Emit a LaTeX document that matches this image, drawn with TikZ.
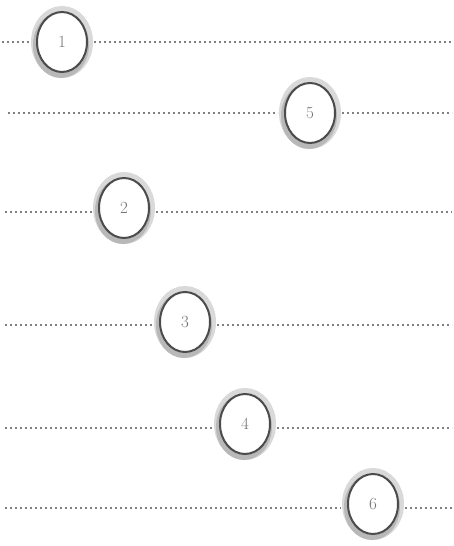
\documentclass[tikz,border=0pt]{standalone}
\usetikzlibrary{shapes.geometric}
\begin{document}
\begin{tikzpicture}[x=1pt,y=1pt,
  bub/.style={ellipse,draw=black!70,line width=2pt,fill=white,minimum width=50pt,minimum height=60pt,inner sep=0pt,
     font=\fontsize{17}{17}\selectfont,text=black!55,
     preaction={draw=black!15,line width=12pt},
     preaction={draw=black!28,line width=6pt,transform canvas={shift={(-1pt,-3pt)}}}},
  guide/.style={draw=black!50,line width=1.2pt,dash pattern=on 2pt off 3pt}]
\useasboundingbox (0,0) rectangle (453,546);
\node[bub] (n1) at (62,504) {1};
\node[bub] (n5) at (310,433) {5};
\node[bub] (n2) at (124,338) {2};
\node[bub] (n3) at (185,224) {3};
\node[bub] (n4) at (245,122) {4};
\node[bub] (n6) at (373,42) {6};
\coordinate (a1) at (2,504); \coordinate (b1) at (452,504);
\coordinate (a5) at (8,433); \coordinate (b5) at (452,433);
\coordinate (a2) at (5,334); \coordinate (b2) at (452,334);
\coordinate (a3) at (5,221); \coordinate (b3) at (452,221);
\coordinate (a4) at (5,118); \coordinate (b4) at (452,118);
\coordinate (a6) at (5,38); \coordinate (b6) at (452,38);
\foreach \k in {1,5,2,3,4,6}{
  \draw[guide] (a\k) -- ([xshift=-6pt]a\k -| n\k.west);
  \draw[guide] ([xshift=6pt]b\k -| n\k.east) -- (b\k);
}
\end{tikzpicture}
\end{document}
